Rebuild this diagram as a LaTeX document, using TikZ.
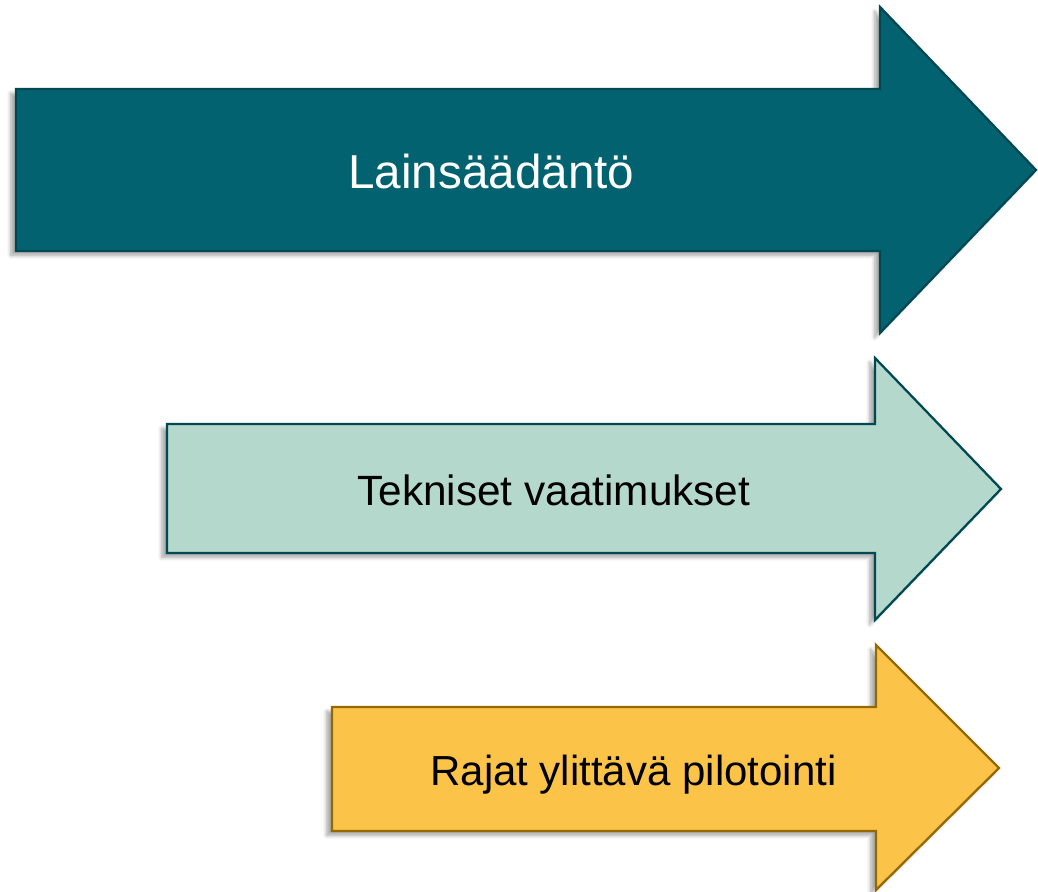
\documentclass[tikz,border=0pt]{standalone}
\usepackage{fontspec}
\setmainfont{Liberation Sans}
\usetikzlibrary{shadows.blur}

\definecolor{tealfill}{RGB}{2,98,111}
\definecolor{tealline}{RGB}{0,72,82}
\definecolor{mintfill}{RGB}{180,216,204}
\definecolor{goldfill}{RGB}{251,196,72}
\definecolor{goldline}{RGB}{150,104,0}

\begin{document}
\begin{tikzpicture}[
            x=0.02cm, y=-0.02cm,
            bigarrow/.style={line width=1.3pt, line join=miter,
                blur shadow={shadow xshift=-3pt, shadow yshift=-2.5pt, shadow blur steps=6, shadow opacity=35}},
            law/.style={bigarrow, fill=tealfill, draw=tealline},
            tech/.style={bigarrow, fill=mintfill, draw=tealline},
            pilot/.style={bigarrow, fill=goldfill, draw=goldline},
            label/.style={anchor=base west, inner sep=0pt}
        ]
            \useasboundingbox (0,0) rectangle (1038,892);

            % arrows
            \draw[law] (16,89) -- (880,89) -- (880,7) -- (1036,170) -- (880,333) -- (880,251) -- (16,251) -- cycle;
            \draw[tech] (167,424) -- (875,424) -- (875,358) -- (1001,489) -- (875,620) -- (875,553) -- (167,553) -- cycle;
            \draw[pilot] (332,707) -- (876,707) -- (876,645) -- (999,768) -- (876,890) -- (876,831) -- (332,831) -- cycle;

            % labels
            \node[label, text=white, font=\fontsize{27.1}{32}\selectfont] (lawtext) at (348,189) {Lainsäädäntö};
            \node[label, font=\fontsize{24.1}{28}\selectfont] (techtext) at (357,505) {Tekniset vaatimukset};
            \node[label, font=\fontsize{23.9}{28}\selectfont] (pilottext) at (430,785) {Rajat ylittävä pilotointi};
        \end{tikzpicture}
\end{document}
